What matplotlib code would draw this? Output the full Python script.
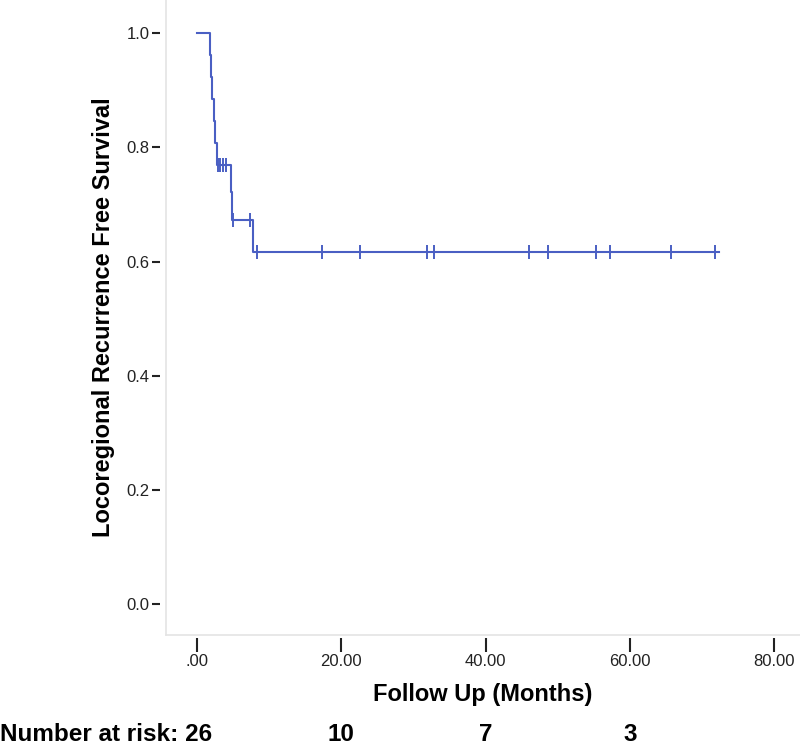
import numpy as np
import matplotlib
matplotlib.use("Agg")
import matplotlib.pyplot as plt
import matplotlib.transforms as mtransforms

plt.rcParams['font.family'] = ['Liberation Sans', 'DejaVu Sans']

# Kaplan-Meier step curve (months, survival)
step_times = [0.0, 1.8, 1.94, 2.13, 2.32, 2.54, 2.82, 4.78, 4.88, 7.73]
step_surv = [1.0, 0.962, 0.923, 0.885, 0.846, 0.808, 0.769, 0.721, 0.673, 0.617]
end_time = 72.4

# censored observations
censor_times = [2.95, 3.25, 3.55, 3.95, 5.05, 7.36, 8.37, 17.3, 22.6, 31.9,
                 32.9, 46.0, 48.6, 55.3, 57.3, 65.7, 71.8]
censor_surv = [0.769, 0.769, 0.769, 0.769, 0.673, 0.673, 0.617, 0.617, 0.617, 0.617,
               0.617, 0.617, 0.617, 0.617, 0.617, 0.617, 0.617]

xticks = [0, 20, 40, 60, 80]
xtick_labels = ['.00', '20.00', '40.00', '60.00', '80.00']
yticks = [0.0, 0.2, 0.4, 0.6, 0.8, 1.0]
risk_times = [20, 40, 60]
risk_counts = ['10', '7', '3']
risk_first = 'Number at risk: 26'

line_color = '#4a5fc3'
frame_color = '#e4e4e4'

fig = plt.figure(figsize=(8, 7.48), dpi=100)
ax = fig.add_axes([0.2075, 0.151, 0.7925, 0.849])

# Draw the survival curve
xs = step_times + [end_time]
ys = step_surv + [step_surv[-1]]
ax.step(xs, ys, where='post', color=line_color, lw=1.5)
ax.plot(censor_times, censor_surv, linestyle='none', marker='|',
        markersize=10, markeredgewidth=1.4, color=line_color)

ax.set_xlim(-4.3, 83.6)
ax.set_ylim(-0.054, 1.058)

# light frame lines, ticks detached from them (SPSS look)
ax.axvline(-4.3, color=frame_color, lw=1.2, clip_on=False)
ax.axhline(-0.054, color=frame_color, lw=1.2, clip_on=False)
for s in ['top', 'right']:
    ax.spines[s].set_visible(False)
ax.spines['left'].set_position(('outward', 4))
ax.spines['bottom'].set_position(('outward', 2))
ax.spines['left'].set_color('none')
ax.spines['bottom'].set_color('none')

ax.set_xticks(xticks)
ax.set_xticklabels(xtick_labels)
ax.set_yticks(yticks)
ax.set_yticklabels(['%.1f' % v for v in yticks])
ax.tick_params(axis='x', length=10, width=1.5, colors='#222222', labelsize=12, pad=2)
ax.tick_params(axis='y', length=6, width=1.5, colors='#222222', labelsize=12, pad=2)

ax.set_xlabel('Follow Up (Months)', fontsize=17, fontweight='bold', labelpad=10)
ax.set_ylabel('Locoregional Recurrence Free Survival', fontsize=17, fontweight='bold',
              labelpad=8)

# Number at risk row
trans = mtransforms.blended_transform_factory(ax.transData, fig.transFigure)
fig.text(0.0, 0.009, risk_first, fontsize=17.5, fontweight='bold', ha='left',
         va='baseline')
for t, n in zip(risk_times, risk_counts):
    fig.text(t, 0.009, n, transform=trans, fontsize=17.5, fontweight='bold',
             ha='center', va='baseline')

plt.savefig('out.png', dpi=100)
